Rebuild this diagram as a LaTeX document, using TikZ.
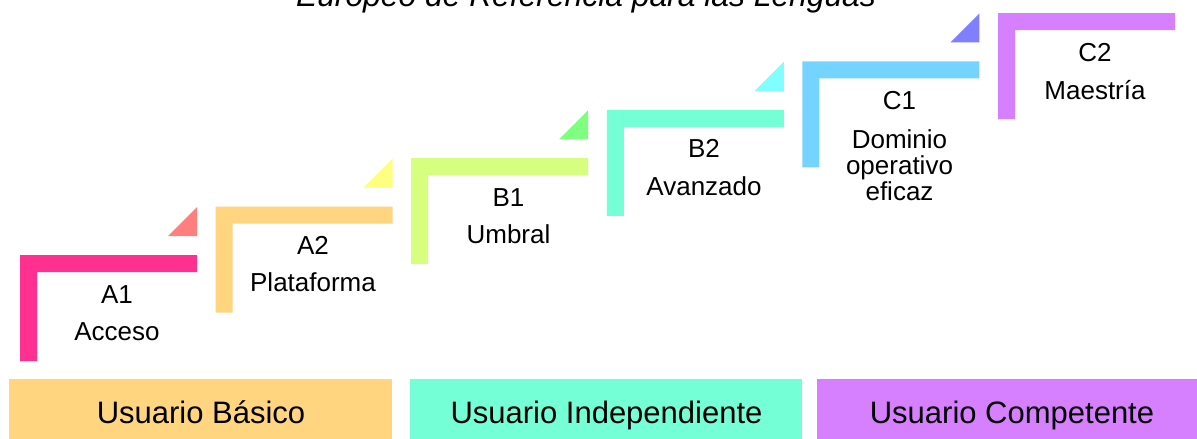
\documentclass[tikz,border=0pt]{standalone}
\usepackage{fontspec}
\setmainfont{Liberation Sans}
\definecolor{cAa}{HTML}{FF3090}
\definecolor{cAb}{HTML}{FFD57F}
\definecolor{cBa}{HTML}{D7FF7F}
\definecolor{cBb}{HTML}{75FFD7}
\definecolor{cCa}{HTML}{75D4FF}
\definecolor{cCb}{HTML}{D780FF}
\definecolor{tAa}{HTML}{FF7F7F}
\definecolor{tAb}{HTML}{FFFF7F}
\definecolor{tBa}{HTML}{7FFF7F}
\definecolor{tBb}{HTML}{7FFFFF}
\definecolor{tCa}{HTML}{7F7FFF}
\begin{document}
\begin{tikzpicture}[x=1pt,y=-1pt,
  lvltext/.style={anchor=base, inner sep=0pt, font=\fontsize{26}{26.3}\selectfont, align=center},
  bartext/.style={anchor=base, inner sep=0pt, font=\fontsize{31}{33}\selectfont},
  groupbar/.style={inner sep=0pt, minimum height=60pt, anchor=north west}]
\useasboundingbox (0,0) rectangle (1197,439);
\clip (0,0) rectangle (1197,439);
\fill[white] (0,0) rectangle (1197,439);
% title (cut off at the top)
\node[anchor=base, inner sep=0pt, font=\itshape\fontsize{31.8}{33}\selectfont] (title) at (586,6.5) {Europeo de Referencia para las Lenguas};
% steps
\foreach \i/\c in {0/cAa,1/cAb,2/cBa,3/cBb,4/cCa,5/cCb}{
  \pgfmathsetmacro\L{20+195.6*\i}
  \pgfmathsetmacro\T{255-48.4*\i}
  \fill[\c] (\L,\T) -- ++(177,0) -- ++(0,17) -- ++(-160,0) -- ++(0,89) -- ++(-17,0) -- cycle;
}
% triangles
\foreach \i/\c in {0/tAa,1/tAb,2/tBa,3/tBb,4/tCa}{
  \pgfmathsetmacro\L{20+195.6*\i}
  \pgfmathsetmacro\T{255-48.4*\i}
  \fill[\c] (\L+148,\T-19) -- (\L+177,\T-19) -- (\L+177,\T-48) -- cycle;
}
% labels
\node[lvltext] (a1) at (117,303) {A1};
\node[lvltext] (a1d) at (117,340) {Acceso};
\node[lvltext] (a2) at (313,254.6) {A2};
\node[lvltext] (a2d) at (313,291.6) {Plataforma};
\node[lvltext] (b1) at (508.5,206.2) {B1};
\node[lvltext] (b1d) at (508.5,243.2) {Umbral};
\node[lvltext] (b2) at (704,157.8) {B2};
\node[lvltext] (b2d) at (704,195.8) {Avanzado};
\node[lvltext] (c1) at (899.5,109.4) {C1};
\node[lvltext] (c1d) at (899.5,200.6) {Dominio\\operativo\\eficaz};
\node[lvltext] (c2) at (1095,61) {C2};
\node[lvltext] (c2d) at (1095,99) {Maestría};
% group bars
\node[groupbar, fill=cAb, minimum width=383pt] (basic) at (9,379) {};
\node[groupbar, fill=cBb, minimum width=392pt] (indep) at (410,379) {};
\node[groupbar, fill=cCb, minimum width=392pt] (comp) at (817,379) {};
\node[bartext] (basict) at (201,423) {Usuario Básico};
\node[bartext] (indept) at (606.5,423) {Usuario Independiente};
\node[bartext] (compt) at (1012,423) {Usuario Competente};
\end{tikzpicture}
\end{document}
